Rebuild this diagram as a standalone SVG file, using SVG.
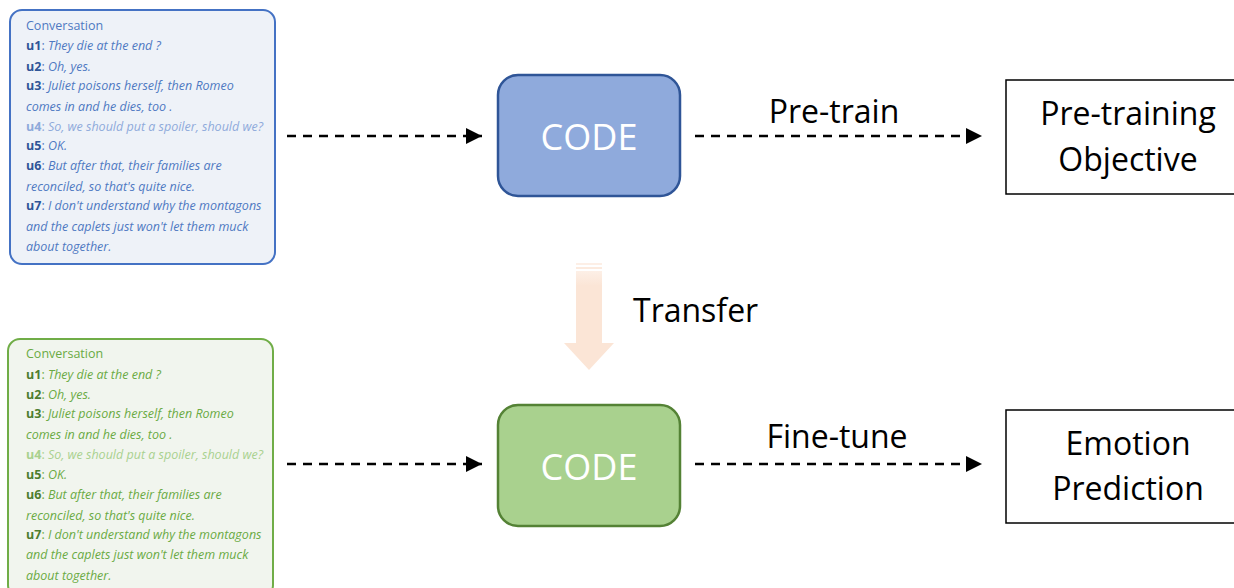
<svg xmlns="http://www.w3.org/2000/svg" width="1234" height="588" viewBox="0 0 1234 588">
  <defs>
    <marker id="tri" viewBox="0 0 10 10" refX="10" refY="5" markerWidth="16" markerHeight="16" markerUnits="userSpaceOnUse" orient="auto">
      <path d="M0,0 L10,5 L0,10 z" fill="#000"/>
    </marker>
    <linearGradient id="fade" x1="0" y1="0" x2="0" y2="1">
      <stop offset="0" stop-color="#fbe5d6" stop-opacity="0.6"/>
      <stop offset="0.15" stop-color="#fbe5d6"/>
      <stop offset="1" stop-color="#fbe5d6"/>
    </linearGradient>
  </defs>
  <style>
    .conv { font-family: "Open Sans", "Liberation Sans", sans-serif; font-size: 12.5px; }
    .conv .u { font-style: normal; font-weight: bold; }
    .conv .t { font-style: italic; }
    .blue { fill: #4f79c2; }
    .blue .u { fill: #2f5597; }
    .blue .dim { fill: #8eaadb; }
    .green { fill: #6aaa43; }
    .green .u { fill: #4e7d2e; }
    .green .dim { fill: #a9d18e; }
    .big { font-family: "Open Sans", "Liberation Sans", sans-serif; font-size: 32px; fill: #000; }
    .code { font-family: "Open Sans", "Liberation Sans", sans-serif; font-size: 36px; fill: #fff; }
    .dash { stroke: #000; stroke-width: 2.5; stroke-dasharray: 9 7; fill: none; }
    .out { fill: #fff; stroke: #000; stroke-width: 1.5; }
  </style>

  <!-- upper conversation panel -->
  <g id="conv-pretrain" class="conv blue">
    <rect x="10" y="10" width="265" height="254" rx="12" fill="#eef2f8" stroke="#4472c4" stroke-width="2"/>
    <text x="26" y="30">Conversation</text>
    <text x="26" y="50"><tspan class="u">u1</tspan>: <tspan class="t">They die at the end ?</tspan></text>
    <text x="26" y="71"><tspan class="u">u2</tspan>: <tspan class="t">Oh, yes.</tspan></text>
    <text x="26" y="90"><tspan class="u">u3</tspan>: <tspan class="t">Juliet poisons herself, then Romeo</tspan></text>
    <text x="26" y="111" class="t">comes in and he dies, too .</text>
    <text x="26" y="131" class="dim"><tspan class="u" style="fill:#8eaadb">u4</tspan>: <tspan class="t">So, we should put a spoiler, should we?</tspan></text>
    <text x="26" y="150"><tspan class="u">u5</tspan>: <tspan class="t">OK.</tspan></text>
    <text x="26" y="170"><tspan class="u">u6</tspan>: <tspan class="t">But after that, their families are</tspan></text>
    <text x="26" y="191" class="t">reconciled, so that's quite nice.</text>
    <text x="26" y="210"><tspan class="u">u7</tspan>: <tspan class="t">I don't understand why the montagons</tspan></text>
    <text x="26" y="231" class="t">and the caplets just won't let them muck</text>
    <text x="26" y="251" class="t">about together.</text>
  </g>

  <!-- lower conversation panel -->
  <g id="conv-finetune" class="conv green">
    <rect x="8" y="339" width="265" height="258" rx="12" fill="#f1f5ee" stroke="#70ad47" stroke-width="2"/>
    <text x="26" y="358">Conversation</text>
    <text x="26" y="379"><tspan class="u">u1</tspan>: <tspan class="t">They die at the end ?</tspan></text>
    <text x="26" y="399"><tspan class="u">u2</tspan>: <tspan class="t">Oh, yes.</tspan></text>
    <text x="26" y="418"><tspan class="u">u3</tspan>: <tspan class="t">Juliet poisons herself, then Romeo</tspan></text>
    <text x="26" y="439" class="t">comes in and he dies, too .</text>
    <text x="26" y="459" class="dim"><tspan class="u" style="fill:#a9d18e">u4</tspan>: <tspan class="t">So, we should put a spoiler, should we?</tspan></text>
    <text x="26" y="479"><tspan class="u">u5</tspan>: <tspan class="t">OK.</tspan></text>
    <text x="26" y="499"><tspan class="u">u6</tspan>: <tspan class="t">But after that, their families are</tspan></text>
    <text x="26" y="520" class="t">reconciled, so that's quite nice.</text>
    <text x="26" y="539"><tspan class="u">u7</tspan>: <tspan class="t">I don't understand why the montagons</tspan></text>
    <text x="26" y="559" class="t">and the caplets just won't let them muck</text>
    <text x="26" y="580" class="t">about together.</text>
  </g>

  <!-- encoders -->
  <g id="code-pretrain">
    <rect x="498" y="75" width="182" height="121" rx="20" fill="#8faadc" stroke="#2f5597" stroke-width="2.5"/>
    <text x="589" y="150" class="code" text-anchor="middle">CODE</text>
  </g>
  <g id="code-finetune">
    <rect x="498" y="405" width="182" height="121" rx="20" fill="#a9d18e" stroke="#548235" stroke-width="2.5"/>
    <text x="589" y="480" class="code" text-anchor="middle">CODE</text>
  </g>

  <!-- targets -->
  <g id="objective">
    <rect x="1006" y="80" width="240" height="114" class="out"/>
    <text x="1128" y="125" class="big" text-anchor="middle">Pre-training</text>
    <text x="1128" y="171" class="big" text-anchor="middle">Objective</text>
  </g>
  <g id="emotion">
    <rect x="1006" y="410" width="240" height="113" class="out"/>
    <text x="1128" y="455" class="big" text-anchor="middle">Emotion</text>
    <text x="1128" y="500" class="big" text-anchor="middle">Prediction</text>
  </g>

  <!-- transfer arrow -->
  <g id="transfer">
    <rect x="576" y="263" width="26" height="2" fill="#fbe5d6" opacity="0.6"/>
    <rect x="576" y="267" width="26" height="2" fill="#fbe5d6" opacity="0.8"/>
    <path d="M576,271 H602 V343 H614 L589,370 L564,343 H576 Z" fill="url(#fade)"/>
    <text x="633" y="322" class="big">Transfer</text>
  </g>

  <!-- connectors -->
  <g id="connectors">
    <line x1="287" y1="136" x2="482" y2="136" class="dash" marker-end="url(#tri)"/>
    <line x1="695" y1="136" x2="982" y2="136" class="dash" marker-end="url(#tri)"/>
    <line x1="287" y1="464" x2="482" y2="464" class="dash" marker-end="url(#tri)"/>
    <line x1="695" y1="464" x2="982" y2="464" class="dash" marker-end="url(#tri)"/>
    <text x="834" y="123" class="big" text-anchor="middle">Pre-train</text>
    <text x="837" y="448" class="big" text-anchor="middle">Fine-tune</text>
  </g>
</svg>
